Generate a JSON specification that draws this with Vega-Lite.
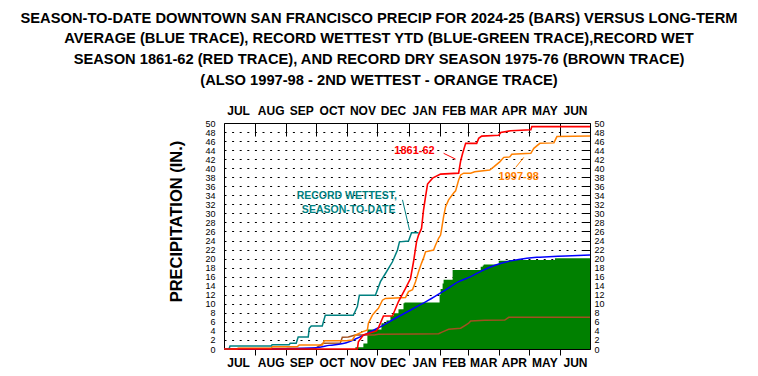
{
  "$schema": "https://vega.github.io/schema/vega-lite/v6.json",
  "width": 366,
  "height": 226,
  "autosize": {"type": "none"},
  "padding": {"left": 224, "top": 123, "right": 168, "bottom": 27},
  "background": "white",
  "title": {
    "text": [
      "SEASON-TO-DATE DOWNTOWN SAN FRANCISCO PRECIP FOR 2024-25 (BARS) VERSUS LONG-TERM",
      "AVERAGE (BLUE TRACE), RECORD WETTEST YTD (BLUE-GREEN TRACE),RECORD WET",
      "SEASON 1861-62 (RED TRACE), AND RECORD DRY SEASON 1975-76 (BROWN TRACE)",
      "(ALSO 1997-98 - 2ND WETTEST - ORANGE TRACE)"
    ],
    "font": "Liberation Sans",
    "fontSize": 14.7,
    "fontWeight": "bold",
    "color": "black",
    "lineHeight": 20.7,
    "anchor": "middle",
    "frame": "group",
    "dx": -28,
    "offset": 17
  },
  "config": {
    "view": {"stroke": "black", "strokeWidth": 1},
    "axis": {"labelFont": "Liberation Sans", "titleFont": "Liberation Sans", "labelColor": "black", "titleColor": "black", "tickColor": "black", "domain": false, "grid": false, "labelFlush": false, "labelOverlap": false}
  },
  "datasets": {
    "yr": [
      {"d":0,"v":0},{"d":131,"v":0.4},{"d":139,"v":1.2},{"d":143,"v":4.3},{"d":157,"v":5.7},{"d":162,"v":6.3},{"d":166,"v":7.3},{"d":169,"v":7.9},{"d":174,"v":8.8},{"d":179,"v":10.1},{"d":180,"v":10.3},{"d":215,"v":12.0},{"d":216,"v":13.3},{"d":218,"v":14.5},{"d":219,"v":15.3},{"d":228,"v":17.5},{"d":256,"v":18.2},{"d":258,"v":18.5},{"d":259,"v":18.7},{"d":274,"v":19.5},{"d":284,"v":19.7},{"d":330,"v":20.1},{"d":365,"v":20.1}
    ],
    "avg": [
      {"d":0,"v":0},{"d":31,"v":0.02},{"d":62,"v":0.08},{"d":92,"v":0.3},{"d":105,"v":0.8},{"d":122,"v":1.4},{"d":131,"v":2.2},{"d":141,"v":3.25},{"d":154,"v":4.7},{"d":171,"v":6.8},{"d":188,"v":8.85},{"d":204,"v":10.8},{"d":221,"v":13.1},{"d":234,"v":14.9},{"d":246,"v":16.0},{"d":257,"v":17.3},{"d":271,"v":18.6},{"d":286,"v":19.5},{"d":302,"v":20.1},{"d":312,"v":20.3},{"d":324,"v":20.4},{"d":341,"v":20.6},{"d":365,"v":20.8}
    ],
    "wet": [
      {"d":0,"v":0},{"d":5,"v":0},{"d":6,"v":0.66},{"d":47,"v":0.66},{"d":48,"v":0.95},{"d":65,"v":0.95},{"d":66,"v":1.25},{"d":72,"v":1.25},{"d":74,"v":2.65},{"d":84,"v":2.65},{"d":85,"v":4.6},{"d":87,"v":5.1},{"d":98,"v":5.1},{"d":101,"v":7.45},{"d":129,"v":7.45},{"d":133,"v":9.4},{"d":135,"v":11.9},{"d":151,"v":11.9},{"d":156,"v":14.9},{"d":161,"v":16.7},{"d":168,"v":19.3},{"d":173,"v":21.9},{"d":175,"v":23.7},{"d":184,"v":23.9},{"d":187,"v":25.7},{"d":194,"v":25.7}
    ],
    "rec": [
      {"d":0,"v":0},{"d":133,"v":0},{"d":134,"v":1.6},{"d":139,"v":3.1},{"d":152,"v":4.0},{"d":154,"v":4.7},{"d":159,"v":7.3},{"d":168,"v":7.3},{"d":174,"v":10.5},{"d":181,"v":13.4},{"d":186,"v":15.6},{"d":189,"v":19.3},{"d":192,"v":23.7},{"d":194,"v":25.2},{"d":197,"v":26.7},{"d":199,"v":30.8},{"d":201,"v":33.7},{"d":203,"v":36.5},{"d":208,"v":37.8},{"d":216,"v":38.7},{"d":234,"v":38.9},{"d":236,"v":41.6},{"d":238,"v":43.3},{"d":241,"v":45.5},{"d":252,"v":45.5},{"d":254,"v":46.6},{"d":257,"v":47.1},{"d":274,"v":47.3},{"d":276,"v":47.9},{"d":286,"v":48.3},{"d":306,"v":48.5},{"d":307,"v":49.2},{"d":365,"v":49.2}
    ],
    "dry": [
      {"d":0,"v":0},{"d":13,"v":0},{"d":14,"v":0.1},{"d":91,"v":0.1},{"d":93,"v":0.4},{"d":99,"v":1.25},{"d":116,"v":1.3},{"d":118,"v":2.6},{"d":124,"v":2.65},{"d":131,"v":3.1},{"d":150,"v":3.1},{"d":154,"v":3.25},{"d":192,"v":3.3},{"d":214,"v":3.4},{"d":218,"v":3.8},{"d":224,"v":4.35},{"d":236,"v":4.6},{"d":241,"v":5.3},{"d":244,"v":5.7},{"d":246,"v":6.2},{"d":260,"v":6.35},{"d":280,"v":6.4},{"d":284,"v":7.0},{"d":365,"v":7.0}
    ],
    "o98": [
      {"d":0,"v":0},{"d":13,"v":0},{"d":14,"v":0.15},{"d":47,"v":0.15},{"d":48,"v":0.5},{"d":73,"v":0.5},{"d":75,"v":0.9},{"d":98,"v":0.9},{"d":100,"v":1.8},{"d":122,"v":1.8},{"d":128,"v":2.0},{"d":131,"v":3.1},{"d":138,"v":3.8},{"d":143,"v":4.2},{"d":144,"v":5.7},{"d":148,"v":7.5},{"d":151,"v":8.3},{"d":154,"v":9.0},{"d":158,"v":10.8},{"d":161,"v":11.2},{"d":181,"v":11.4},{"d":184,"v":12.7},{"d":188,"v":13.1},{"d":191,"v":14.9},{"d":194,"v":17.1},{"d":197,"v":19.0},{"d":199,"v":20.1},{"d":201,"v":21.5},{"d":209,"v":21.9},{"d":211,"v":23.0},{"d":214,"v":24.5},{"d":216,"v":25.2},{"d":217,"v":26.5},{"d":219,"v":29.3},{"d":221,"v":31.5},{"d":224,"v":33.0},{"d":229,"v":34.5},{"d":231,"v":35.0},{"d":234,"v":37.4},{"d":236,"v":38.5},{"d":239,"v":38.9},{"d":246,"v":38.9},{"d":250,"v":39.2},{"d":265,"v":39.6},{"d":269,"v":40.3},{"d":275,"v":41.4},{"d":279,"v":42.4},{"d":285,"v":42.5},{"d":287,"v":43.1},{"d":306,"v":43.3},{"d":309,"v":44.4},{"d":315,"v":45.5},{"d":329,"v":45.6},{"d":332,"v":47.0},{"d":365,"v":47.1}
    ],
    "notes": [
      {"s":"rec","d":190,"v":43.7,"t":"1861-62"},
      {"s":"o98","d":294,"v":38.1,"t":"1997-98"}
    ],
    "notes2": [
      {"s":"wet","d":122.5,"v":33.85,"t":"RECORD WETTEST,"},
      {"s":"wet","d":124.3,"v":30.8,"t":"SEASON-TO-DATE"}
    ],
    "leaders": [
      {"s":"rec","d":219,"v":43.3,"d2":231,"v2":42.0},
      {"s":"o98","d":291,"v":40.2,"d2":299,"v2":42.4},
      {"s":"wet","d":178,"v":33.0,"d2":185,"v2":26.3}
    ]
  },
  "resolve": {"axis": {"x": "independent", "y": "independent"}},
  "layer": [
    {
      "data": {"name": "yr"},
      "mark": {"type": "area", "interpolate": "step-after", "color": "#008000"},
      "encoding": {
        "x": {"field": "d", "type": "quantitative", "scale": {"domain": [0, 365], "nice": false, "zero": false},
          "axis": {"orient": "bottom", "values": [14, 46.5, 77, 107.5, 138, 168.5, 199.5, 229, 258.5, 289, 319.5, 350], "ticks": false, "tickSize": 0, "labelPadding": 8, "labelFontSize": 12, "labelFontWeight": "bold", "title": null,
            "labelExpr": "datum.value < 31 ? 'JUL' : datum.value < 62 ? 'AUG' : datum.value < 92 ? 'SEP' : datum.value < 123 ? 'OCT' : datum.value < 153 ? 'NOV' : datum.value < 184 ? 'DEC' : datum.value < 215 ? 'JAN' : datum.value < 243 ? 'FEB' : datum.value < 274 ? 'MAR' : datum.value < 304 ? 'APR' : datum.value < 335 ? 'MAY' : 'JUN'"}},
        "y": {"field": "v", "type": "quantitative", "scale": {"domain": [0, 50], "nice": false},
          "axis": {"orient": "left", "values": [0,2,4,6,8,10,12,14,16,18,20,22,24,26,28,30,32,34,36,38,40,42,44,46,48,50], "ticks": false, "tickSize": 0, "labelPadding": 9, "labelFontSize": 9,
            "grid": true, "gridColor": "black", "gridDash": [2, 5.6], "gridWidth": 1, "gridOpacity": 1,
            "title": "PRECIPITATION (IN.)", "titleFontSize": 16.5, "titleFontWeight": "bold", "titleAngle": -90, "titleX": -48, "titleY": 98, "titleAlign": "center", "titleBaseline": "middle"}}
      }
    },
    {
      "data": {"name": "dry"},
      "mark": {"type": "line", "color": "#A05020", "strokeWidth": 1.5},
      "encoding": {
        "x": {"field": "d", "type": "quantitative",
          "axis": {"orient": "bottom", "values": [31, 62, 92, 123, 153, 184, 215, 243, 274, 304, 335], "tickSize": 6, "labels": false, "title": null}},
        "y": {"field": "v", "type": "quantitative",
          "axis": {"orient": "right", "values": [2,4,6,8,10,12,14,16,18,20,22,24,26,28,30,32,34,36,38,40,42,44,46,48], "tickSize": -8, "labels": false, "title": null}}
      }
    },
    {
      "data": {"name": "avg"},
      "mark": {"type": "line", "color": "#0000FF", "strokeWidth": 1.5, "interpolate": "monotone"},
      "encoding": {
        "x": {"field": "d", "type": "quantitative",
          "axis": {"orient": "top", "values": [14, 46.5, 77, 107.5, 138, 168.5, 199.5, 229, 258.5, 289, 319.5, 350], "ticks": false, "tickSize": 0, "labelPadding": 5.5, "labelFontSize": 12, "labelFontWeight": "bold", "title": null,
            "labelExpr": "datum.value < 31 ? 'JUL' : datum.value < 62 ? 'AUG' : datum.value < 92 ? 'SEP' : datum.value < 123 ? 'OCT' : datum.value < 153 ? 'NOV' : datum.value < 184 ? 'DEC' : datum.value < 215 ? 'JAN' : datum.value < 243 ? 'FEB' : datum.value < 274 ? 'MAR' : datum.value < 304 ? 'APR' : datum.value < 335 ? 'MAY' : 'JUN'"}},
        "y": {"field": "v", "type": "quantitative",
          "axis": {"orient": "right", "values": [0,2,4,6,8,10,12,14,16,18,20,22,24,26,28,30,32,34,36,38,40,42,44,46,48,50], "ticks": false, "tickSize": 0, "labelPadding": 4, "labelFontSize": 9, "title": null}}
      }
    },
    {
      "data": {"name": "o98"},
      "mark": {"type": "line", "color": "#FF8000", "strokeWidth": 1.5},
      "encoding": {
        "x": {"field": "d", "type": "quantitative",
          "axis": {"orient": "top", "values": [31, 62, 92, 123, 153, 184, 215, 243, 274, 304, 335], "tickSize": -13, "labels": false, "title": null}},
        "y": {"field": "v", "type": "quantitative", "axis": null}
      }
    },
    {
      "data": {"name": "wet"},
      "mark": {"type": "line", "color": "#008080", "strokeWidth": 1.5},
      "encoding": {
        "x": {"field": "d", "type": "quantitative", "axis": null},
        "y": {"field": "v", "type": "quantitative", "axis": null}
      }
    },
    {
      "data": {"name": "rec"},
      "mark": {"type": "line", "color": "#FF0000", "strokeWidth": 1.6},
      "encoding": {
        "x": {"field": "d", "type": "quantitative", "axis": null},
        "y": {"field": "v", "type": "quantitative", "axis": null}
      }
    },
    {
      "data": {"name": "leaders"},
      "mark": {"type": "rule", "strokeWidth": 1},
      "encoding": {
        "x": {"field": "d", "type": "quantitative", "axis": null},
        "y": {"field": "v", "type": "quantitative", "axis": null},
        "x2": {"field": "d2"},
        "y2": {"field": "v2"},
        "color": {"field": "s", "type": "nominal", "scale": {"domain": ["rec", "o98", "wet"], "range": ["#FF0000", "#FF8000", "#008080"]}, "legend": null}
      }
    },
    {
      "data": {"name": "notes"},
      "mark": {"type": "text", "font": "Liberation Sans", "fontSize": 11, "fontWeight": "bold", "align": "center", "baseline": "middle"},
      "encoding": {
        "x": {"field": "d", "type": "quantitative", "axis": null},
        "y": {"field": "v", "type": "quantitative", "axis": null},
        "text": {"field": "t"},
        "color": {"field": "s", "type": "nominal", "scale": {"domain": ["rec", "o98", "wet"], "range": ["#FF0000", "#FF8000", "#008080"]}, "legend": null}
      }
    },
    {
      "data": {"name": "notes2"},
      "mark": {"type": "text", "font": "Liberation Sans", "fontSize": 10.5, "fontWeight": "bold", "align": "center", "baseline": "middle"},
      "encoding": {
        "x": {"field": "d", "type": "quantitative", "axis": null},
        "y": {"field": "v", "type": "quantitative", "axis": null},
        "text": {"field": "t"},
        "color": {"field": "s", "type": "nominal", "scale": {"domain": ["rec", "o98", "wet"], "range": ["#FF0000", "#FF8000", "#008080"]}, "legend": null}
      }
    }
  ]
}
